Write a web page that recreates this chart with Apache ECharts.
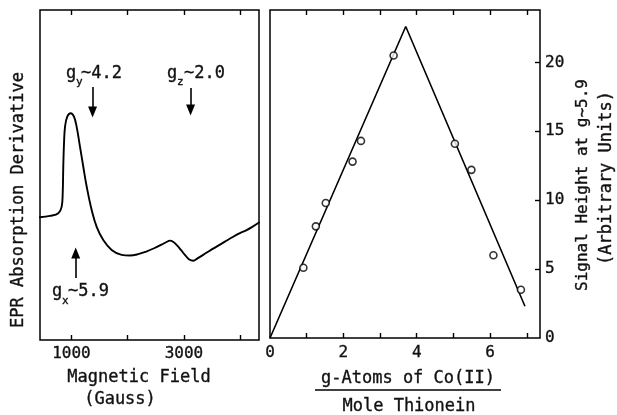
<!DOCTYPE html>
<html><head><meta charset="utf-8">
<script src="https://cdn.jsdelivr.net/npm/echarts@6/dist/echarts.min.js"></script>
<style>html,body{margin:0;padding:0;background:#fff}#c{width:617px;height:415px}</style>
</head><body><div id="c"></div>
<script>
// Left panel: EPR spectrum (field in Gauss, signal in arbitrary units)
const eprField = [436,618,766,826,844,854,867,885,925,986,1044,1092,1151,1210,1270,1359,1448,1565,1714,1892,2040,2186,2330,2470,2600,2690,2750,2812,2869,2946,3017,3088,3164,3248,3342,3462,3581,3729,3876,3996,4115,4209,4334];
const eprSignal = [37.2,37.6,38.4,40.4,44.5,52.5,59.6,64.6,67.7,68.7,67.7,64.6,58.6,52.5,46.5,39.4,34.3,30.3,27.3,25.8,25.6,26.0,26.8,27.8,28.9,29.7,30.1,29.7,28.8,27.3,25.8,24.5,24.0,24.8,25.8,27.1,28.3,29.8,31.3,32.4,33.3,34.2,35.6];
const fieldTicks = [1000,2000,3000,4000];
const fieldLabels = [1000,3000];

// Right panel: titration
const coRatio = [0.91,1.25,1.52,2.25,2.48,3.37,5.04,5.49,6.09,6.84];
const signalHeight = [5.1,8.1,9.8,12.8,14.3,20.5,14.1,12.2,6.0,3.5];
const fitX = [0, 3.7, 6.95];
const fitY = [0, 22.6, 2.3];
const ratioTicks = [1,2,3,4,5,6,7];
const ratioLabels = [0,2,4,6];
const heightTicks = [5,10,15,20];
const heightLabels = [0,5,10,15,20];

// g-value arrows (field, start signal, end signal)
const gArrowField = [1375, 3118, 1075];
const gArrowFrom = [76.7, 76.4, 18.8];
const gArrowTo = [69.1, 69.7, 26.4];

const FONT = 'DejaVu Sans Mono';
const TXT = '#111';
const W = 'normal';

const chart = echarts.init(document.getElementById('c'), null, {renderer:'canvas'});

function axisBase(extra){
  return Object.assign({
    type:'value', splitLine:{show:false},
    axisLine:{show:false, onZero:false},
    axisTick:{show:false},
    axisLabel:{show:false}
  }, extra);
}
const tickStyle = {color:'#000', width:1.4};

const leftCurve = eprField.map((f,i)=>[f, eprSignal[i]]);
const fitLine = fitX.map((x,i)=>[x, fitY[i]]);
const pts = coRatio.map((x,i)=>[x, signalHeight[i]]);
const arrows = gArrowField.map((f,i)=>[
  {coord:[f, gArrowFrom[i]], symbol:'none'},
  {coord:[f, gArrowTo[i]], symbol:'triangle'}
]);

function txt(x,y,text,size,opt){
  opt = opt || {};
  return {type:'text', x:x, y:y, silent:true, rotation:opt.rotation||0,
    style:{text:text, fill:TXT, font: W+' '+size+'px "'+FONT+'"',
      textAlign:opt.align||'left', textVerticalAlign:'middle',
      stroke:TXT, lineWidth:0.35}};
}

const labelStyle = {show:true, color:TXT, fontFamily:FONT, fontWeight:W, fontSize:16,
  textBorderColor:TXT, textBorderWidth:0.35,
  formatter:(v)=>String(v)};

const option = {
  animation:false,
  backgroundColor:'#fff',
  grid:[
    {left:40, top:10, width:219, height:330, show:true, borderColor:'#000', borderWidth:1.5, backgroundColor:'transparent'},
    {left:270, top:10, width:270, height:328, show:true, borderColor:'#000', borderWidth:1.5, backgroundColor:'transparent'}
  ],
  xAxis:[
    axisBase({gridIndex:0, min:440, max:4335, position:'bottom',
      axisTick:{show:true, inside:true, length:5, lineStyle:tickStyle, customValues:fieldTicks},
      axisLabel:Object.assign({margin:6, customValues:fieldLabels}, labelStyle)}),
    axisBase({gridIndex:1, min:0, max:7.36, position:'bottom',
      axisTick:{show:true, inside:true, length:5, lineStyle:tickStyle, customValues:ratioTicks},
      axisLabel:Object.assign({margin:7, customValues:ratioLabels}, labelStyle)}),
    axisBase({gridIndex:0, min:440, max:4335, position:'top',
      axisTick:{show:true, inside:true, length:5, lineStyle:tickStyle, customValues:fieldTicks}}),
    axisBase({gridIndex:1, min:0, max:7.36, position:'top',
      axisTick:{show:true, inside:true, length:5, lineStyle:tickStyle, customValues:ratioTicks}})
  ],
  yAxis:[
    axisBase({gridIndex:0, min:0, max:100}),
    axisBase({gridIndex:1, min:0, max:23.8, position:'right',
      axisTick:{show:true, inside:true, length:5, lineStyle:tickStyle, customValues:heightTicks},
      axisLabel:Object.assign({margin:5, customValues:heightLabels}, labelStyle)})
  ],
  series:[
    {type:'line', xAxisIndex:0, yAxisIndex:0, data:leftCurve, smooth:0.4,
     showSymbol:false, symbol:'none',
     lineStyle:{color:'#000', width:1.9, join:'round', cap:'round'},
     markLine:{silent:true, symbol:['none','triangle'], symbolSize:[9,11], animation:false,
       lineStyle:{color:'#000', width:1.6, type:'solid'}, label:{show:false}, emphasis:{disabled:true},
       data:arrows}},
    {type:'line', xAxisIndex:1, yAxisIndex:1, data:fitLine, showSymbol:false, symbol:'none',
     lineStyle:{color:'#000', width:1.6}},
    {type:'scatter', xAxisIndex:1, yAxisIndex:1, data:pts, symbol:'circle', symbolSize:7,
     itemStyle:{color:'#fff', borderColor:'#000', borderWidth:1.6}, z:5}
  ],
  graphic:[
    txt(19, 200, 'EPR Absorption Derivative', 17, {rotation:Math.PI/2, align:'center'}),
    txt(139, 378, 'Magnetic Field', 17, {align:'center'}),
    txt(120, 400, '(Gauss)', 17, {align:'center'}),
    txt(408, 379, 'g-Atoms of Co(II)', 17, {align:'center'}),
    {type:'line', silent:true, shape:{x1:315, y1:390, x2:501, y2:390}, style:{stroke:'#000', lineWidth:1.6}},
    txt(409, 407, 'Mole Thionein', 17, {align:'center'}),
    txt(583, 185, 'Signal Height at g~5.9', 16, {rotation:Math.PI/2, align:'center'}),
    txt(607, 178, '(Arbitrary Units)', 17, {rotation:Math.PI/2, align:'center'}),
    // g_y ~ 4.2
    txt(66, 74, 'g', 17), txt(76, 82, 'y', 11), txt(81, 74, '~4.2', 17),
    // g_z ~ 2.0
    txt(167, 74, 'g', 17), txt(177, 82, 'z', 11), txt(184, 74, '~2.0', 17),
    // g_x ~ 5.9
    txt(52, 292, 'g', 17), txt(62, 301, 'x', 11), txt(68, 292, '~5.9', 17)
  ]
};
chart.setOption(option);
</script>
</body></html>
